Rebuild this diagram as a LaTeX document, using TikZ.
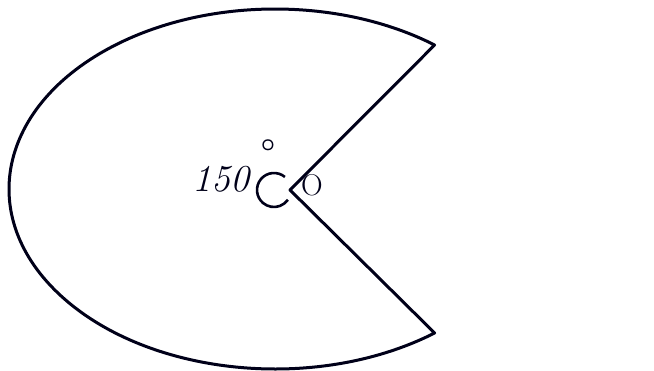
\documentclass[tikz,border=0pt]{standalone}
\begin{document}
\begin{tikzpicture}[x=1pt,y=1pt,
  ink/.style={draw=black!90!blue, line width=3pt, line join=round},
  thinink/.style={draw=black!90!blue, line width=2.6pt},
  lab/.style={inner sep=0pt, text=black!90!blue}]
\useasboundingbox (0,0) rectangle (654,371);
\fill[white] (0,0) rectangle (654,371);
\coordinate (O) at (290,181);
\coordinate (A) at (434.6,326);
\coordinate (B) at (434.6,38);
\draw[ink] (A) -- (O) -- (B) arc[start angle=306.87, end angle=53.13, x radius=266, y radius=180] -- cycle;
\draw[thinink] (274,181) ++(50:17) arc[start angle=50, end angle=325, radius=17];
\node[lab, font=\fontsize{38}{38}\selectfont\itshape] (ang) at (221,192) {150};
\node[lab, font=\fontsize{30}{30}\selectfont\boldmath] (deg) at (268,225) {$\circ$};
\node[lab, font=\fontsize{30}{30}\selectfont] (olab) at (312,186) {O};
\end{tikzpicture}
\end{document}
